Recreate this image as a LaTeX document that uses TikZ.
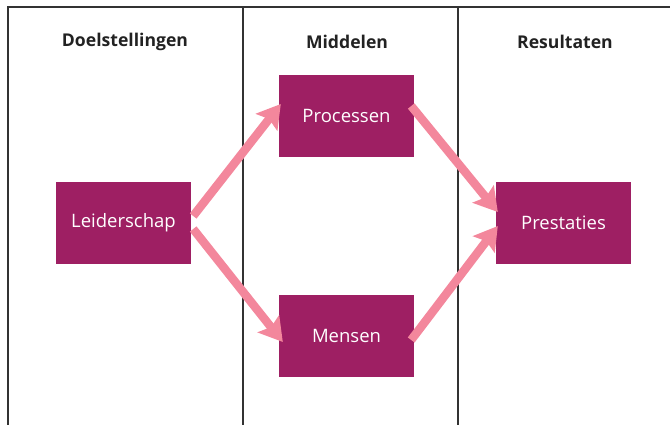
\documentclass[tikz,border=0pt]{standalone}
\usepackage{fontspec}
\setmainfont{Open Sans}
\usetikzlibrary{arrows.meta,calc}
\definecolor{boxc}{HTML}{9E1F63}
\definecolor{arrc}{HTML}{F3879C}
\definecolor{linec}{HTML}{333333}
\definecolor{textc}{HTML}{222222}
\tikzset{
  box/.style={fill=boxc, text=white, minimum width=135pt, minimum height=82pt, inner sep=0pt, font=\fontsize{18.5}{20}\selectfont},
  head/.style={text=textc, font=\bfseries\fontsize{17.6}{20}\selectfont},
  frame/.style={draw=linec, line width=2.4pt},
  arr/.style={draw=arrc, line width=8.5pt, -{Stealth[length=23pt,width=27pt,inset=4pt]}},
}
\begin{document}
\begin{tikzpicture}[x=1pt,y=-1pt]
\useasboundingbox (0,0) rectangle (670,425);
% frame
\coordinate (tl) at (8,7);
\coordinate (tr) at (671,7);
\coordinate (bl) at (8,426);
\coordinate (c1t) at (243,7);
\coordinate (c1b) at (243,426);
\coordinate (c2t) at (458,7);
\coordinate (c2b) at (458,426);
\draw[frame] (bl) -- (tl) -- (tr);
\draw[frame] (c1t) -- (c1b);
\draw[frame] (c2t) -- (c2b);
% headers
\node[head] (h1) at (125,42) {Doelstellingen};
\node[head] (h2) at (347,42) {Middelen};
\node[head] (h3) at (565,42) {Resultaten};
% boxes
\node[box] (lead) at (123.5,223) {Leiderschap};
\node[box] (proc) at (346.5,116) {Processen};
\node[box] (mens) at (346.5,336) {Mensen};
\node[box] (pres) at (563.5,223) {Prestaties};
% arrows
\draw[arr] ($(lead.east)+(2,-7)$) -- ($(proc.west)+(2,-12)$);
\draw[arr] ($(lead.east)+(2,6)$) -- ($(mens.west)+(4,6)$);
\draw[arr] ($(proc.east)+(-3,-10)$) -- ($(pres.west)+(2,-11)$);
\draw[arr] ($(mens.east)+(-3,4)$) -- ($(pres.west)+(2,3)$);
\end{tikzpicture}
\end{document}
